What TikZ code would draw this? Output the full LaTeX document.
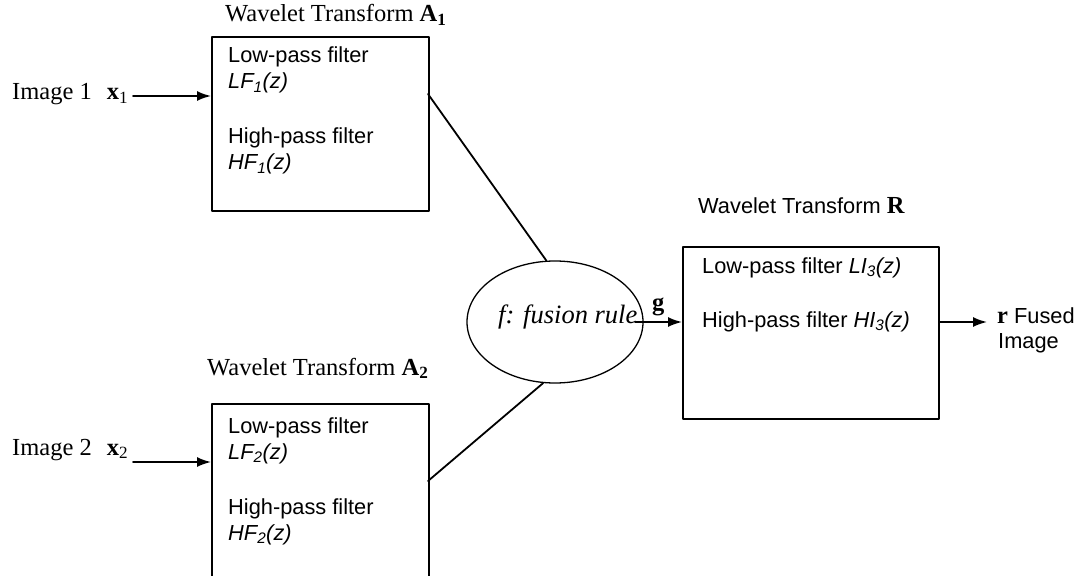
\documentclass[tikz,border=0pt]{standalone}
\usepackage{fontspec}
\setmainfont{Liberation Sans}
\newfontfamily\tms{Liberation Serif}
\usetikzlibrary{shapes.geometric,arrows.meta}
\newcommand{\serb}[1]{{\tms\fontsize{24.5}{28}\selectfont\bfseries #1}}
\begin{document}
\begin{tikzpicture}[x=1pt,y=-1pt,line cap=round,line join=round,font=\fontsize{21.8}{26}\selectfont]
	\tikzset{blok/.style={draw,line width=1.8pt,inner sep=0pt,anchor=north west},
		tms/.style={font=\tms\fontsize{24.5}{28}\selectfont},
		lbl/.style={inner sep=0pt,anchor=base west},
		filt/.style={align=left,anchor=north west,inner sep=0pt},
		arr/.style={-{Latex[length=14pt,width=10pt]},line width=1.8pt}}
	\useasboundingbox (0,0) rectangle (1083,575);
	% input 1
	\node[blok,minimum width=217,minimum height=174] (A1) at (211,36) {};
	\node[tms,lbl] (T1) at (225,22) {Wavelet Transform \textbf{A\textsubscript{1}}};
	\node[filt] (F1) at (228,47) {Low-pass filter\\ \textit{LF\textsubscript{1}(z)}\\[29pt] High-pass filter\\ \textit{HF\textsubscript{1}(z)}};
	\node[tms,lbl] (img1) at (12,100) {Image 1\hspace{15pt}\textbf{x}\textsubscript{1}};
	\coordinate (in1) at (133,96);
	\draw[arr] (in1) -- (in1 -| A1.west);
	% input 2
	\node[blok,minimum width=217,minimum height=200] (A2) at (211,403) {};
	\node[tms,lbl] (T2) at (207,375) {Wavelet Transform \textbf{A\textsubscript{2}}};
	\node[filt] (F2) at (228,417) {Low-pass filter\\ \textit{LF\textsubscript{2}(z)}\\[29pt] High-pass filter\\ \textit{HF\textsubscript{2}(z)}};
	\node[tms,lbl] (img2) at (12,455) {Image 2\hspace{15pt}\textbf{x}\textsubscript{2}};
	\coordinate (in2) at (133,462);
	\draw[arr] (in2) -- (in2 -| A2.west);
	% fusion rule
	\node[draw,ellipse,line width=1.3pt,minimum width=176,minimum height=122,inner sep=0pt] (fus) at (555,322) {};
	\node[lbl,font=\tms\itshape\fontsize{26.5}{30}\selectfont] (rule) at (498,323) {f: fusion rule};
	\coordinate (c1) at (428,94);
	\coordinate (c2) at (428,481);
	\draw[line width=1.8pt] (c1) -- (fus.98);
	\draw[line width=1.8pt] (c2) -- (fus.259);
	% output
	\node[blok,minimum width=256,minimum height=172] (R) at (682,246) {};
	\node[lbl] (TR) at (698,213) {Wavelet Transform \serb{R}};
	\node[lbl] (LI) at (702,273) {Low-pass filter \textit{LI\textsubscript{3}(z)}};
	\node[lbl] (HI) at (702,327) {High-pass filter \textit{HI\textsubscript{3}(z)}};
	\coordinate (g0) at (635,322);
	\draw[arr] (g0) -- (g0 -| R.west);
	\node[lbl] (g) at (652,310) {\serb{g}};
	\coordinate (o3) at (987,322);
	\draw[arr] (o3 -| R.east) -- (o3);
	\node[lbl] (rf) at (997,323) {\serb{r} Fused};
	\node[lbl] (ri) at (998,348) {Image};
\end{tikzpicture}
\end{document}
